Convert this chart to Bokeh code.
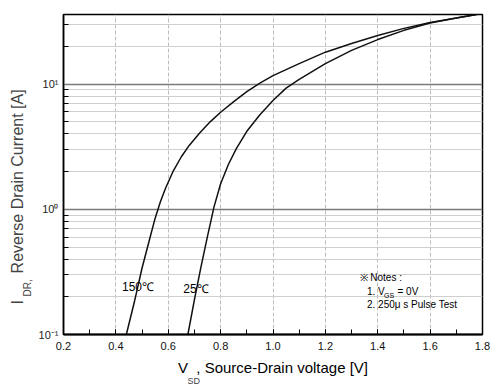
import numpy as np
from bokeh.plotting import figure
from bokeh.models import (Range1d, SingleIntervalTicker, FixedTicker, CustomJSTickFormatter,
                          PrintfTickFormatter, Label, Title)
from bokeh.embed import file_html
from bokeh.resources import INLINE

# ---- data ----
v_150 = [0.44, 0.47, 0.50, 0.53, 0.55, 0.57, 0.59, 0.62, 0.65, 0.68, 0.72, 0.76, 0.80, 0.85, 0.90,
         0.95, 1.00, 1.10, 1.20, 1.30, 1.40, 1.50, 1.60, 1.70, 1.775]
i_150 = [0.1, 0.18, 0.34, 0.59, 0.85, 1.15, 1.48, 2.04, 2.63, 3.24, 4.07, 5.0, 5.96, 7.24, 8.7,
         10.2, 11.7, 14.6, 18.0, 21.1, 24.5, 27.9, 31.1, 33.7, 36.0]
v_25 = [0.675, 0.70, 0.725, 0.75, 0.775, 0.80, 0.83, 0.86, 0.90, 0.95, 1.00, 1.05, 1.10, 1.20,
        1.30, 1.40, 1.50, 1.60, 1.70, 1.78]
i_25 = [0.1, 0.19, 0.347, 0.61, 1.05, 1.6, 2.29, 3.05, 4.2, 5.7, 7.4, 9.3, 10.9, 14.6,
        18.6, 22.7, 26.9, 30.8, 33.7, 36.0]
series_labels = ["150\u2103", "25\u2103"]
y_major = [0.1, 1, 10]
y_minor = [m * d for d in (0.1, 1, 10) for m in range(2, 10)]
y_tick_labels = ["10\u207b\u00b9", "10\u2070", "10\u00b9"]
notes = ["\u203b Notes :", "1. V", "GS", "= 0V", "2. 250\u03bc s Pulse Test"]
NB = "\u00a0"
x_title = ["V" + NB * 2 + ", Source-Drain voltage [V]", "SD"]
y_title = ["I" + NB * 6 + "Reverse Drain Current [A]", "DR,"]

X0, X1 = 0.2, 1.8
Y0, Y1 = 0.1, 36.0
W, H = 492, 387
FL, FT, FR, FB = 63, 14, 482, 334
FONT = "Liberation Sans"

p = figure(width=W, height=H, output_backend="svg", toolbar_location=None,
           x_range=Range1d(X0, X1), y_range=Range1d(Y0, Y1), y_axis_type="log",
           min_border_left=FL, min_border_top=FT, min_border_right=W - FR, min_border_bottom=H - FB)
p.background_fill_color = "white"
p.border_fill_color = "white"
p.outline_line_color = "black"
p.outline_line_width = 1.5

# x axis
p.xaxis.ticker = SingleIntervalTicker(interval=0.2, num_minor_ticks=2)
p.xaxis.formatter = PrintfTickFormatter(format="%.1f")
p.xaxis.major_tick_in = 5
p.xaxis.major_tick_out = 0
p.xaxis.minor_tick_in = 5
p.xaxis.minor_tick_out = 0
p.xaxis.major_tick_line_color = "black"
p.xaxis.minor_tick_line_color = "black"
p.xaxis.axis_line_width = 2
p.xaxis.axis_line_color = "black"
p.xaxis.major_label_standoff = 7
p.xaxis.major_label_text_font = FONT
p.xaxis.major_label_text_font_size = "11px"
p.xaxis.major_label_text_color = "#111111"
p.xaxis.axis_label = x_title[0]
p.xaxis.axis_label_standoff = 6
p.xaxis.axis_label_text_font = FONT
p.xaxis.axis_label_text_font_size = "15px"
p.xaxis.axis_label_text_font_style = "normal"
p.xaxis.axis_label_text_color = "black"

# y axis
p.yaxis.ticker = FixedTicker(ticks=y_major, minor_ticks=y_minor)
p.yaxis.formatter = CustomJSTickFormatter(
    args=dict(vals=y_major, labs=y_tick_labels),
    code="for (let i = 0; i < vals.length; i++) { if (Math.abs(tick - vals[i]) < 1e-9 * vals[i]) return labs[i]; } return '';")
p.yaxis.major_tick_in = 0
p.yaxis.major_tick_out = 0
p.yaxis.minor_tick_in = 5
p.yaxis.minor_tick_out = 0
p.yaxis.minor_tick_line_color = "black"
p.yaxis.axis_line_width = 1.5
p.yaxis.axis_line_color = "black"
p.yaxis.major_label_standoff = 5
p.yaxis.major_label_text_font = FONT
p.yaxis.major_label_text_font_size = "11px"
p.yaxis.major_label_text_color = "#222222"

# grids
p.xgrid.grid_line_color = "#bdbdbd"
p.xgrid.grid_line_dash = "4 2"
p.xgrid.grid_line_width = 1
p.ygrid.grid_line_color = "#7a7a7a"
p.ygrid.grid_line_width = 1.6
p.ygrid.minor_grid_line_color = "#cfcfcf"
p.ygrid.minor_grid_line_width = 1

# curves
p.line(v_150, i_150, line_color="#111111", line_width=1.5)
p.line(v_25, i_25, line_color="#111111", line_width=1.5)


def dx(px):
    return X0 + (px - FL) / (FR - FL) * (X1 - X0)


def dy(py):
    ly0, ly1 = np.log10(Y0), np.log10(Y1)
    return 10 ** (ly1 - (py - FT) / (FB - FT) * (ly1 - ly0))


def lab(text, px, py, size, align="left", baseline="middle", angle=0.0):
    p.add_layout(Label(x=dx(px), y=dy(py), text=text, text_font=FONT, text_font_size=size,
                       text_align=align, text_baseline=baseline, angle=angle,
                       text_color="black"))


# curve labels
lab(series_labels[0], 137.5, 286, "12px", align="center")
lab(series_labels[1], 195.5, 288.5, "12px", align="center")

# notes
lab(notes[0], 359, 277, "10px")
lab(notes[1], 366.5, 290.5, "10px")
lab(notes[2], 383.5, 294.5, "7px")
lab(notes[3], 397, 290.5, "10px")
lab(notes[4], 366.5, 304, "10px")

# subscripts / y title as side-panel titles (not clipped by the frame)
p.add_layout(Title(text=x_title[1], align="left", offset=124, vertical_align="top", standoff=-6,
                   text_font=FONT, text_font_size="9px", text_font_style="normal"), "below")
p.add_layout(Title(text=y_title[1], align="left", offset=38, vertical_align="middle", standoff=4,
                   text_font=FONT, text_font_size="10px", text_font_style="normal"), "left")
p.add_layout(Title(text=y_title[0], align="left", offset=30, vertical_align="middle", standoff=-16,
                   text_font=FONT, text_font_size="16px", text_font_style="normal"), "left")

open("out.html", "w").write(file_html(p, INLINE))
